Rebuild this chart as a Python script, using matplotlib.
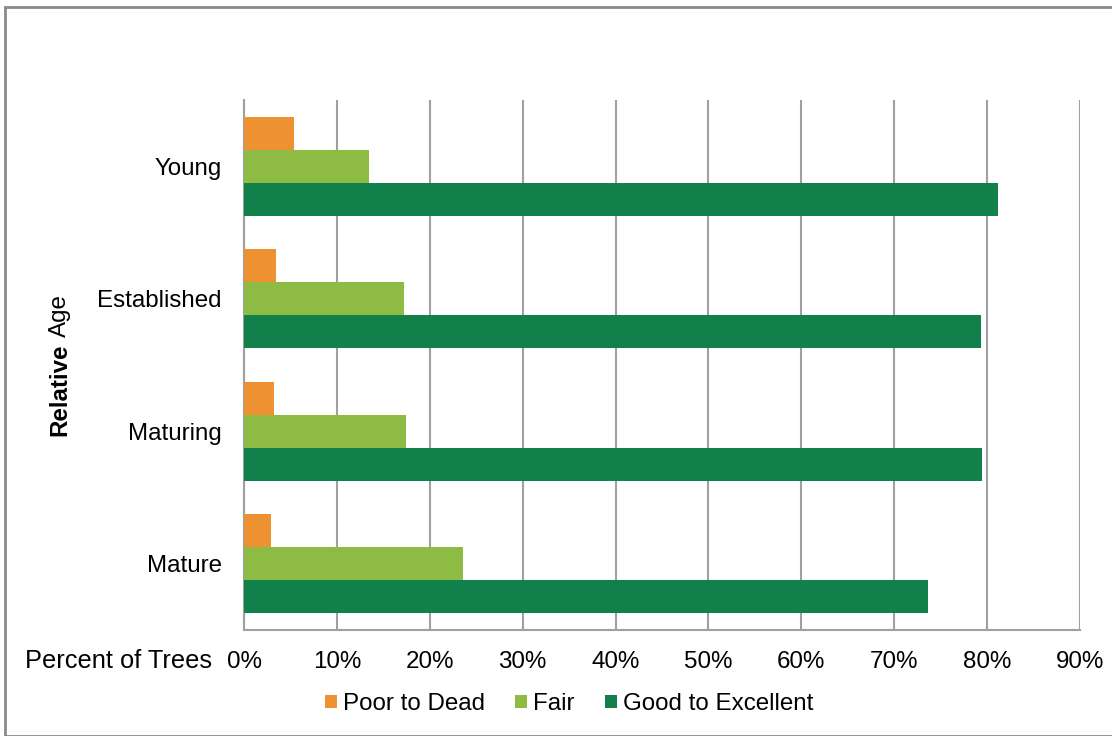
import matplotlib.pyplot as plt
import numpy as np
from matplotlib.patches import Rectangle

plt.rcParams['font.family'] = ['Liberation Sans', 'DejaVu Sans']

# percent of trees in each condition class, by relative age
ages = ['Young', 'Established', 'Maturing', 'Mature']
poor_to_dead = [5.4, 3.4, 3.2, 2.9]
fair = [13.5, 17.2, 17.4, 23.6]
good_to_excellent = [81.2, 79.3, 79.4, 73.6]
xticks = [0, 10, 20, 30, 40, 50, 60, 70, 80, 90]

W, H = 1112, 736
FS = 17.4
fig = plt.figure(figsize=(W / 100, H / 100), dpi=100)
ax = fig.add_axes([244 / W, 1 - 630 / H, (1080 - 244) / W, (630 - 100) / H])

y = np.arange(len(ages))
h = 0.25
ax.barh(y - h, poor_to_dead, height=h, color='#ED9133', label='Poor to Dead', zorder=3)
ax.barh(y, fair, height=h, color='#8DBB43', label='Fair', zorder=3)
ax.barh(y + h, good_to_excellent, height=h, color='#12804B', label='Good to Excellent', zorder=3)

ax.set_ylim(len(ages) - 0.5, -0.5)
ax.set_xlim(0, 90)
ax.set_xticks(xticks)
ax.set_xticklabels([f'{t}%' for t in xticks])
ax.set_yticks(y)
ax.set_yticklabels(ages)
ax.tick_params(axis='both', length=0, labelsize=FS, colors='black')
ax.tick_params(axis='x', pad=15)
ax.tick_params(axis='y', pad=16)

ax.grid(axis='x', color='#A0A0A0', linewidth=1.5, zorder=0)
for s in ['top', 'right']:
    ax.spines[s].set_visible(False)
for s in ['left', 'bottom']:
    ax.spines[s].set_color('#A0A0A0')
    ax.spines[s].set_linewidth(1.5)

fig.text(212 / W, 1 - 661 / H, 'Percent of Trees', ha='right', va='center', fontsize=18.3)

# y axis title: bold "Relative" followed by regular "Age"
t1 = fig.text(60 / W, 1 - 436 / H, 'Relative', rotation=90, rotation_mode='anchor',
              ha='left', va='center', fontsize=FS, fontweight='bold')
fig.canvas.draw()
bb = t1.get_window_extent()
space = FS * 0.278 * 100 / 72
fig.text(60 / W, (bb.y1 + space) / H, 'Age', rotation=90, rotation_mode='anchor',
         ha='left', va='center', fontsize=FS)

fig.legend(loc='center', bbox_to_anchor=(569 / W, 1 - 704 / H), ncol=3, frameon=False,
           fontsize=FS, handlelength=0.5, handleheight=0.5, handletextpad=0.25,
           columnspacing=1.25)

fig.patches.append(Rectangle((5 / W, 0), 1.2, 1 - 7 / H, transform=fig.transFigure,
                             fill=False, edgecolor='#8A8A8A', linewidth=2, clip_on=False))

fig.savefig('out.png', dpi=100)
